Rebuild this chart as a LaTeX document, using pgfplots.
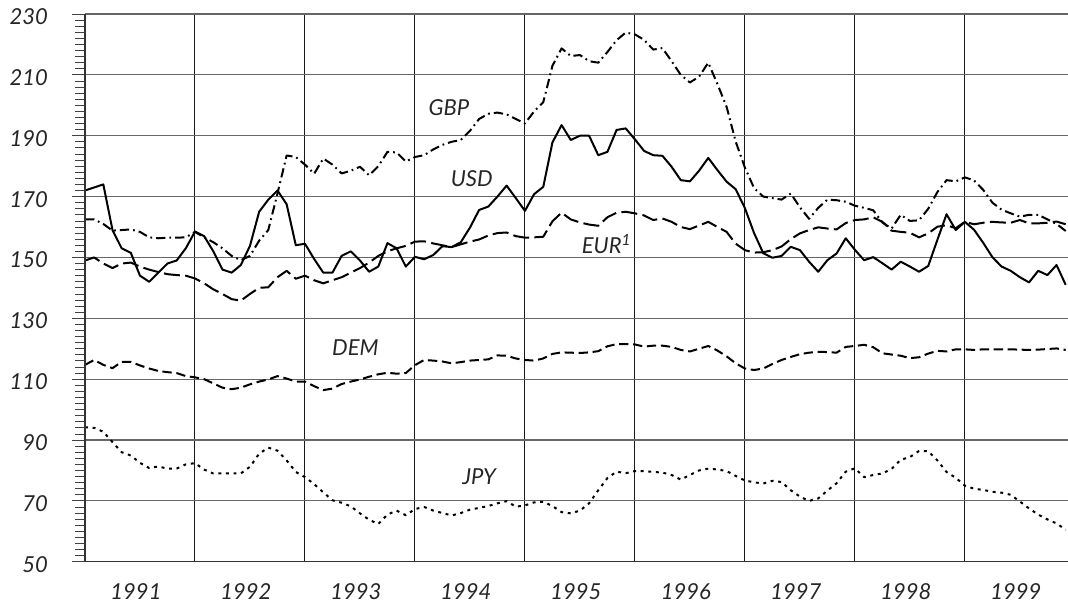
\documentclass[border=0pt]{standalone}
\usepackage{fontspec}
\setmainfont{Lato}
\usepackage{pgfplots}
\pgfplotsset{compat=1.18}
\begin{document}
\begin{tikzpicture}
\def\W{737.25pt}\def\H{410.8pt}
\begin{axis}[name=main, at={(0,0)}, anchor=south west, scale only axis,
  width=\W, height=\H,
  xmin=0, xmax=107.25, ymin=50, ymax=230,
  axis line style={draw=none},
  tick pos=left, tick align=outside,
  xtick={6,18,30,42,54,66,78,90,102},
  xticklabels={1991,1992,1993,1994,1995,1996,1997,1998,1999},
  minor xtick={12,24,36,48,60,72,84,96}, xminorgrids=true,
  x tick style={draw=none},
  minor grid style={black!90, line width=0.75pt},
  ytick={50,70,...,230}, minor y tick num=9, ymajorgrids=true,
  major grid style={black!60, line width=0.9pt},
  major tick length=9.75pt, minor tick length=7.5pt,
  y tick style={black!75, line width=0.6pt},
  /pgf/number format/assume math mode=true,
  tick label style={font=\fontsize{16.5}{19}\selectfont\itshape, text=black!85},
  yticklabel style={anchor=east, xshift=-14.5pt, yshift=-2pt},
  xticklabel style={anchor=north, inner sep=0pt, yshift=-6.3pt, xshift=-3pt},
  every axis plot/.append style={line width=1.5pt, black, line join=round},
]
% USD
\addplot[solid] coordinates {
(0,172)(1,173)(2,174)(3,159)(4,153)(5,151.5)(6,144)(7,142)(8,145)(9,148)(10,149)(11,153)
(12,158.5)(13,157)(14,152)(15,146)(16,145)(17,147.5)(18,153.8)(19,165)(20,169)(21,172)(22,167.5)(23,154)
(24,154.5)(25,149.5)(26,145)(27,145)(28,150.5)(29,152)(30,149)(31,145.3)(32,147)(33,154.7)(34,153)(35,147)
(36,150.2)(37,149.4)(38,150.8)(39,153.7)(40,153.4)(41,155)(42,159.8)(43,165.6)(44,166.7)(45,170)(46,173.6)(47,169.5)
(48,165.3)(49,170.8)(50,173.2)(51,187.8)(52,193.5)(53,188.6)(54,190)(55,190)(56,183.6)(57,184.7)(58,191.9)(59,192.4)
(60,188.8)(61,185)(62,183.6)(63,183.4)(64,179.8)(65,175.4)(66,175)(67,178.5)(68,182.7)(69,178.7)(70,174.9)(71,172.4)
(72,166.2)(73,158)(74,151.4)(75,149.9)(76,150.5)(77,153.5)(78,152.4)(79,148.6)(80,145.3)(81,149.1)(82,151.3)(83,156.3)
(84,152.5)(85,149.1)(86,150.1)(87,148.1)(88,146)(89,148.6)(90,147)(91,145.3)(92,147.2)(93,155.8)(94,164.2)(95,159)
(96,161.7)(97,159.1)(98,154.8)(99,150.1)(100,147)(101,145.6)(102,143.5)(103,141.8)(104,145.6)(105,144.2)(106,147.5)(107,141)
};
% GBP
\addplot[dash pattern=on 7pt off 3pt on 1.3pt off 3pt] coordinates {
(0,162.5)(1,162.5)(2,161)(3,158.8)(4,159)(5,159.2)(6,158.4)(7,156.6)(8,156.3)(9,156.5)(10,156.5)(11,156.6)
(12,158.4)(13,156.6)(14,155)(15,153)(16,150.5)(17,149.1)(18,150.5)(19,155.5)(20,159)(21,171)(22,183.5)(23,183)
(24,180.5)(25,177.5)(26,182.5)(27,180.5)(28,177.6)(29,178.5)(30,179.8)(31,177)(32,180)(33,184.7)(34,184.5)(35,181.5)
(36,183)(37,183.6)(38,185.5)(39,187)(40,188)(41,188.6)(42,191.6)(43,195.5)(44,197.2)(45,197.6)(46,197)(47,195.5)
(48,194)(49,198)(50,201)(51,213)(52,218.7)(53,216.2)(54,216.5)(55,214.5)(56,214)(57,217.5)(58,221.4)(59,223.9)
(60,223.3)(61,221.5)(62,218.3)(63,218.8)(64,214.5)(65,210)(66,207.5)(67,209.4)(68,214)(69,207)(70,199.5)(71,188)
(72,179.5)(73,172.8)(74,170)(75,169.5)(76,169)(77,171)(78,166.5)(79,162.7)(80,166.3)(81,169)(82,168.8)(83,168.3)
(84,167)(85,166.3)(86,165.5)(87,161.5)(88,159.5)(89,164)(90,162)(91,162.2)(92,166)(93,171.5)(94,175.4)(95,175)
(96,176.3)(97,175.3)(98,172.2)(99,168)(100,165.7)(101,164.5)(102,163.4)(103,164)(104,164)(105,162.5)(106,161)(107,158.7)
};
% EUR
\addplot[dash pattern=on 12pt off 4pt] coordinates {
(0,149)(1,150)(2,148)(3,146.5)(4,148)(5,148.3)(6,147)(7,146)(8,145.2)(9,144.5)(10,144.2)(11,144)
(12,143.1)(13,141.5)(14,139.5)(15,138)(16,136.3)(17,135.8)(18,138)(19,140)(20,140.2)(21,143.5)(22,145.6)(23,143)
(24,144)(25,142.5)(26,141.5)(27,142.5)(28,143.5)(29,145)(30,146.5)(31,148.3)(32,150.5)(33,152)(34,153)(35,153.8)
(36,155.2)(37,155.3)(38,154.6)(39,154)(40,153.4)(41,154.3)(42,155.2)(43,155.9)(44,157.2)(45,158)(46,158.2)(47,157)
(48,156.5)(49,156.6)(50,156.8)(51,161.9)(52,164.7)(53,162.5)(54,161.5)(55,160.8)(56,160.4)(57,163.2)(58,164.7)(59,165)
(60,164.5)(61,163.8)(62,162.3)(63,162.8)(64,161.7)(65,160)(66,159.3)(67,160.5)(68,161.7)(69,160)(70,158.4)(71,154.5)
(72,152.4)(73,151.6)(74,151.7)(75,152.4)(76,153.6)(77,156)(78,157.9)(79,159)(80,159.9)(81,159.5)(82,159.2)(83,161.3)
(84,162.3)(85,162.5)(86,163.2)(87,161.7)(88,158.8)(89,158.4)(90,158.1)(91,156.6)(92,157.9)(93,160.1)(94,160.6)(95,159.6)
(96,161.7)(97,160.9)(98,161.4)(99,161.7)(100,161.5)(101,161.4)(102,162.3)(103,161.2)(104,161.2)(105,161.4)(106,161.8)(107,160.9)
};
% DEM
\addplot[dash pattern=on 7pt off 3.5pt] coordinates {
(0,114.7)(1,116.3)(2,114.7)(3,113.6)(4,115.7)(5,115.7)(6,114.5)(7,113.5)(8,112.7)(9,112.3)(10,112)(11,111)
(12,110.6)(13,110)(14,108.6)(15,107.2)(16,106.7)(17,107.2)(18,108.3)(19,109.2)(20,109.9)(21,111)(22,110.2)(23,109.2)
(24,109.2)(25,107.7)(26,106.4)(27,106.9)(28,108.4)(29,109.2)(30,109.9)(31,110.8)(32,111.6)(33,112.1)(34,111.8)(35,112)
(36,114.6)(37,116.3)(38,116.1)(39,115.8)(40,115.2)(41,115.6)(42,116.1)(43,116.3)(44,116.5)(45,117.8)(46,117.7)(47,116.8)
(48,116.3)(49,116.1)(50,116.8)(51,118.3)(52,118.8)(53,118.7)(54,118.6)(55,118.8)(56,119.2)(57,120.8)(58,121.5)(59,121.5)
(60,121.4)(61,120.7)(62,121)(63,121)(64,120.6)(65,119.6)(66,119.1)(67,120)(68,120.9)(69,119.4)(70,117.5)(71,115.2)
(72,113.5)(73,113)(74,113.5)(75,115)(76,116.3)(77,117.3)(78,118.2)(79,118.7)(80,119)(81,118.9)(82,118.7)(83,120.6)
(84,120.9)(85,121.3)(86,120.5)(87,118.5)(88,118.1)(89,117.7)(90,116.9)(91,117.2)(92,118.4)(93,119.3)(94,119.1)(95,119.8)
(96,119.8)(97,119.6)(98,119.8)(99,119.8)(100,119.8)(101,119.8)(102,119.7)(103,119.6)(104,119.7)(105,119.9)(106,120.1)(107,119.6)
};
% JPY
\addplot[dash pattern=on 2.2pt off 3.5pt] coordinates {
(0,94.2)(1,94)(2,92.7)(3,89.3)(4,86)(5,84.9)(6,82.5)(7,80.8)(8,81.3)(9,80.6)(10,80.6)(11,82)
(12,82.4)(13,80.3)(14,79)(15,79)(16,79)(17,79)(18,81.2)(19,85.5)(20,87.5)(21,86.5)(22,83.3)(23,79.5)
(24,77.8)(25,75.5)(26,72.8)(27,70.2)(28,69.4)(29,68.2)(30,65.9)(31,63.8)(32,62.4)(33,65.5)(34,66.8)(35,65.3)
(36,67.3)(37,68)(38,66.8)(39,66)(40,65.2)(41,66)(42,67.1)(43,67.7)(44,68.3)(45,69.2)(46,69.9)(47,68.1)
(48,68.5)(49,69.5)(50,69.7)(51,68.3)(52,66.3)(53,65.9)(54,66.8)(55,69.2)(56,73.5)(57,77.5)(58,79.6)(59,79.1)
(60,79.8)(61,79.8)(62,79.5)(63,79.3)(64,78.5)(65,77)(66,78.5)(67,80)(68,80.6)(69,80.3)(70,79.8)(71,78.2)
(72,76.7)(73,76.1)(74,75.7)(75,76.6)(76,76.2)(77,73.5)(78,71.4)(79,70)(80,70.8)(81,73.4)(82,75.8)(83,79.6)
(84,80.7)(85,77.8)(86,78.5)(87,79)(88,80.5)(89,83.5)(90,84.4)(91,86.4)(92,86.3)(93,83.3)(94,79.5)(95,77.6)
(96,75)(97,74)(98,73.6)(99,73)(100,72.7)(101,72)(102,69.8)(103,67.5)(104,65.5)(105,63.9)(106,62.6)(107,60.5)
};
\begin{scope}[every node/.style={font=\fontsize{16.5}{19}\selectfont\itshape, text=black!85}]
\node at (axis cs:39.7,199.1) {GBP};
\node at (axis cs:42.2,175.8) {USD};
\node at (axis cs:56.9,154.4) {EUR\textsuperscript{1}};
\node at (axis cs:29.5,120.2) {DEM};
\node at (axis cs:43,78.1) {JPY};
\end{scope}
\end{axis}
\begin{axis}[at={(0,0)}, anchor=south west, scale only axis,
  width=\W, height=\H,
  xmin=0, xmax=107.25, ymin=50, ymax=230,
  axis line style={draw=none},
  xtick=\empty, ytick=\empty,
  minor xtick={1,2,...,107},
  tick pos=left, tick align=inside,
  minor tick length=3.75pt,
  minor x tick style={black!80, line width=0.6pt},
]
\end{axis}
\draw[black!80, line width=1pt] (main.south west) -- (main.south east);
\draw[black!80, line width=2pt] (main.south west) -- (main.north west);
\pgfresetboundingbox
\path[use as bounding box] (-63.75pt,-31.7pt) rectangle (737.25pt,421.3pt);
\end{tikzpicture}
\end{document}
